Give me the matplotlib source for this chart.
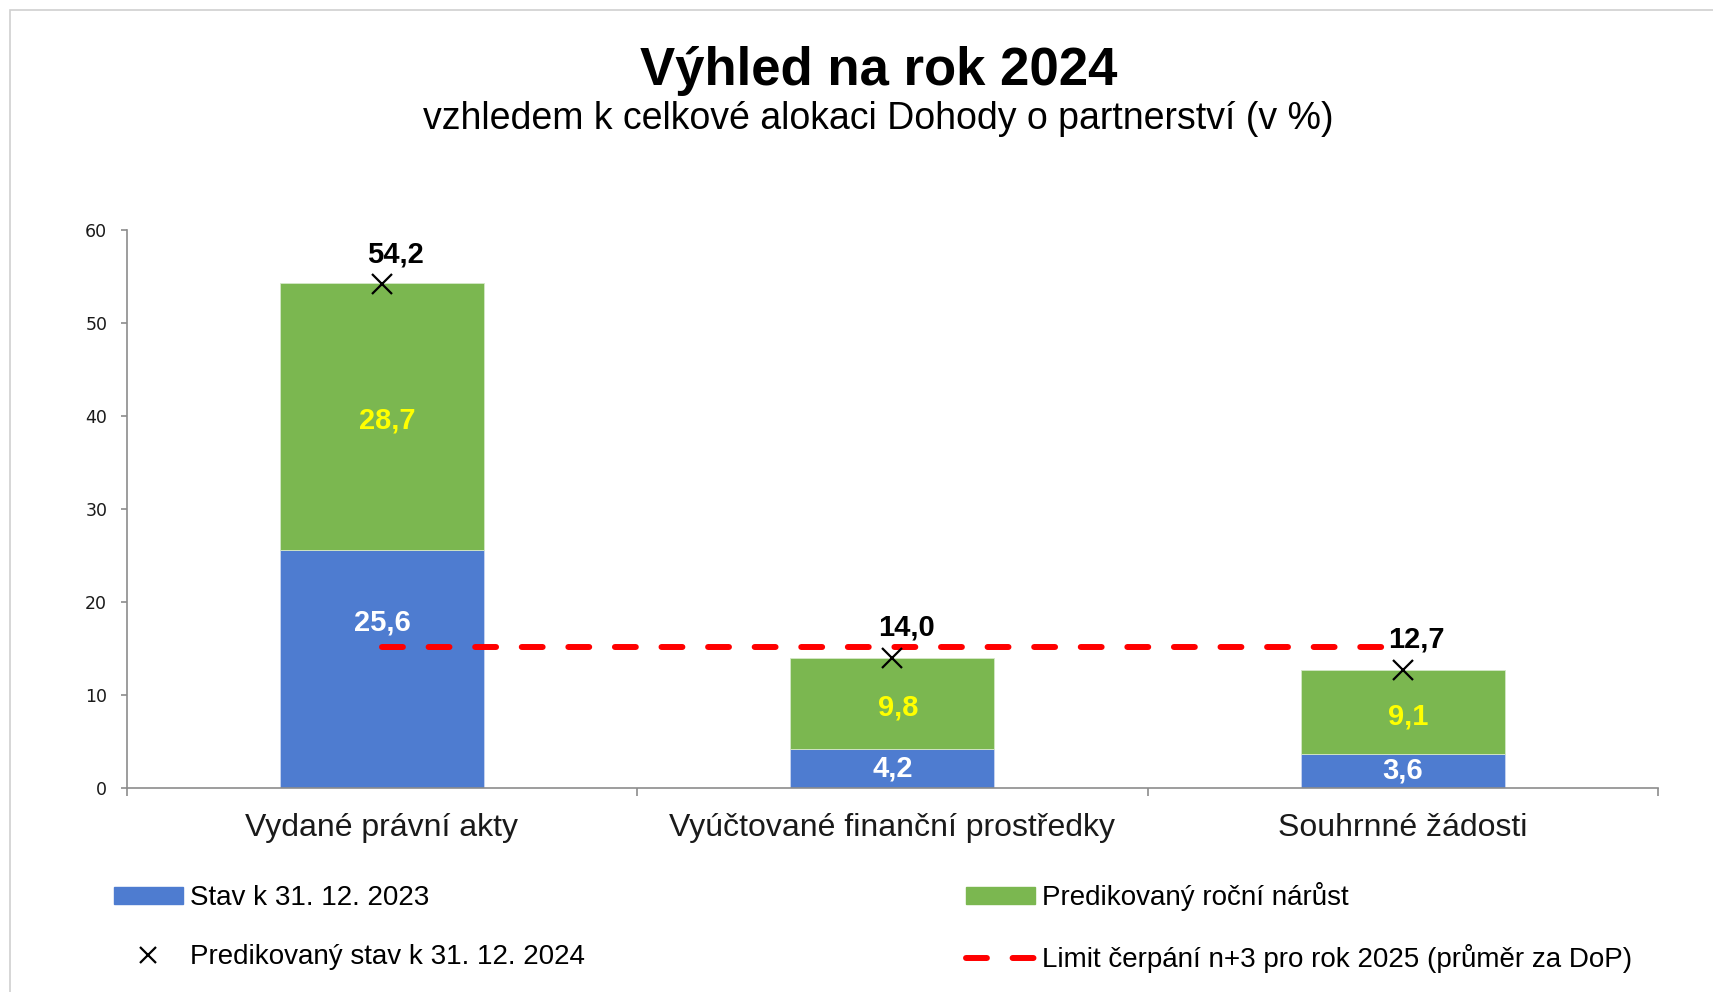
import matplotlib.pyplot as plt
from matplotlib.lines import Line2D
from matplotlib.patches import Patch, Rectangle

plt.rcParams['font.family'] = ['Liberation Sans', 'DejaVu Sans']

# data
categories = ['Vydané právní akty', 'Vyúčtované finanční prostředky', 'Souhrnné žádosti']
stav_2023 = [25.6, 4.2, 3.6]
narust = [28.7, 9.8, 9.1]
predikce_2024 = [54.2, 14.0, 12.7]
limit_n3 = 15.1

legend_labels = ['Stav k 31. 12. 2023', 'Predikovaný roční nárůst',
                 'Predikovaný stav k 31. 12. 2024',
                 'Limit čerpání n+3 pro rok 2025 (průměr za DoP)']

BLUE = '#4E7CD0'
GREEN = '#7BB750'
RED = '#FF0000'
GRAY = '#8C8C8C'


def fmt(v):
    return f'{v:.1f}'.replace('.', ',')


fig = plt.figure(figsize=(17.13, 9.92), dpi=100)
fig.patches.append(Rectangle((10 / 1713, -0.1), 1.2, (1 - 10 / 992) + 0.1,
                             transform=fig.transFigure, fill=False,
                             edgecolor='#D0D0D0', linewidth=1.2))

ax = fig.add_axes([0.07396, 0.2060, 0.8939, 0.5617])

x = list(range(len(categories)))
ax.bar(x, stav_2023, width=0.4, color=BLUE, edgecolor='#C9D6F0', linewidth=0.6, zorder=2)
ax.bar(x, narust, width=0.4, bottom=stav_2023, color=GREEN, edgecolor='#D5E8C8',
       linewidth=0.6, zorder=2)

ax.plot(x, [limit_n3] * len(x), color=RED, linewidth=4.3, dashes=(3.5, 4.3),
        dash_capstyle='round', zorder=3)
ax.plot(x, predikce_2024, linestyle='none', marker='x', markersize=14,
        markeredgewidth=1.6, color='black', zorder=4)

# labels inside the segments (the first blue one sits higher, as in excel)
nudge_blue = [33, 0, 0]
for i in x:
    ax.annotate(fmt(stav_2023[i]), (i, stav_2023[i] / 2), xytext=(0, nudge_blue[i]),
                textcoords='offset points', ha='center', va='center',
                fontsize=21, fontweight='bold', color='white', zorder=5)
    ax.annotate(fmt(narust[i]), (i, stav_2023[i] + narust[i] / 2), xytext=(4, -3),
                textcoords='offset points', ha='center', va='center',
                fontsize=21, fontweight='bold', color='#FFFF00', zorder=5)
    ax.annotate(fmt(predikce_2024[i]), (i, predikce_2024[i]), xytext=(10, 21.5),
                textcoords='offset points', ha='center', va='center',
                fontsize=21, fontweight='bold', color='black', zorder=5)

ax.set_xlim(-0.5, len(categories) - 0.5)
ax.set_ylim(0, 60)
ax.set_yticks(range(0, 61, 10))
ax.set_yticklabels([str(v) for v in range(0, 61, 10)], fontfamily='DejaVu Sans',
                   fontsize=12.5, color='#1A1A1A')
ax.tick_params(axis='y', length=4, width=1.2, color=GRAY, pad=10)

ax.set_xticks([i - 0.5 for i in range(len(categories) + 1)])
ax.set_xticklabels([])
ax.set_xticks(x, minor=True)
ax.set_xticklabels(categories, minor=True, fontsize=23, color='#1A1A1A')
ax.tick_params(axis='x', which='major', length=6, width=1.2, color=GRAY)
ax.tick_params(axis='x', which='minor', length=0, pad=18)

for side in ['top', 'right']:
    ax.spines[side].set_visible(False)
for side in ['left', 'bottom']:
    ax.spines[side].set_color(GRAY)
    ax.spines[side].set_linewidth(1.2)

fig.text(0.5127, 0.9143, 'Výhled na rok 2024', ha='center', va='baseline',
         fontsize=38, fontweight='bold')
fig.text(0.5127, 0.870, 'vzhledem k celkové alokaci Dohody o partnerství (v %)',
         ha='center', va='baseline', fontsize=27)

h_blue = Patch(color=BLUE)
h_green = Patch(color=GREEN)
h_x = Line2D([], [], linestyle='none', marker='x', markersize=12, markeredgewidth=1.6,
             color='black')
h_red = Line2D([], [], color=RED, linewidth=4.3, dashes=(3.5, 4.3), dash_capstyle='round')

legend_kw = dict(loc='center left', frameon=False, fontsize=20, borderpad=0,
                 borderaxespad=0, handlelength=2.48, handleheight=0.55,
                 handletextpad=0.26, labelspacing=1.16)
fig.legend([h_blue, h_x], [legend_labels[0], legend_labels[2]],
           bbox_to_anchor=(114 / 1713, 0.0650), **legend_kw)
fig.legend([h_green, h_red], [legend_labels[1], legend_labels[3]],
           bbox_to_anchor=(966 / 1713, 0.0650), **legend_kw)

plt.savefig('out.png', dpi=100)
